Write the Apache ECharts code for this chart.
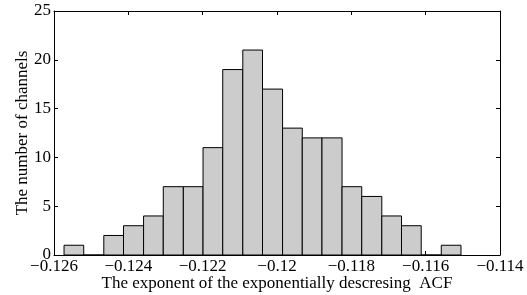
<!DOCTYPE html>
<html>
<head>
<meta charset="utf-8">
<script src="https://cdn.jsdelivr.net/npm/echarts@6/dist/echarts.min.js"></script>
<style>
  html, body { margin: 0; padding: 0; background: #fff; }
  #chart { width: 527px; height: 295px; }
</style>
</head>
<body>
<div id="chart"></div>
<script>
// 直方图的分箱边界
var binEdges = [-0.12573, -0.12520, -0.12466, -0.12413, -0.12359, -0.12306, -0.12252,
    -0.12199, -0.12146, -0.12092, -0.12039, -0.11985, -0.11932, -0.11879, -0.11825,
    -0.11772, -0.11718, -0.11665, -0.11612, -0.11558, -0.11505];
// 每个分箱的通道数
var counts = [1, 0, 2, 3, 4, 7, 7, 11, 19, 21, 17, 13, 12, 12, 7, 6, 4, 3, 0, 1];
var xTicks = [-0.126, -0.124, -0.122, -0.12, -0.118, -0.116, -0.114];
var yTicks = [0, 5, 10, 15, 20, 25];

(function () {
    var myChart = echarts.init(document.getElementById('chart'));

    var data = [];
    for (var i = 0; i < counts.length; i++) {
        data.push([binEdges[i], binEdges[i + 1], counts[i]]);
    }

    var font = 'Liberation Serif';
    function fmtX(v) {
        var r = Math.round(v * 1000) / 1000;
        return String(r).replace('-', '\u2212');
    }

    var option = {
        animation: false,
        textStyle: { fontFamily: font },
        grid: { left: 54, right: 27, top: 11, bottom: 40, containLabel: false, outerBoundsMode: 'none' },
        xAxis: [
            {
                type: 'value',
                min: xTicks[0],
                max: xTicks[xTicks.length - 1],
                interval: 0.002,
                name: 'The exponent of the exponentially descresing  ACF',
                nameLocation: 'middle',
                nameGap: 20,
                nameMoveOverlap: false,
                nameTextStyle: { fontFamily: font, fontSize: 17, color: '#000' },
                axisLine: { onZero: false, lineStyle: { color: '#000', width: 1 } },
                axisTick: { inside: true, length: 4, lineStyle: { color: '#000' } },
                axisLabel: { formatter: fmtX, fontFamily: font, fontSize: 17, color: '#000', margin: 3, showMinLabel: true, showMaxLabel: true },
                splitLine: { show: false }
            },
            {
                type: 'value',
                position: 'top',
                min: xTicks[0],
                max: xTicks[xTicks.length - 1],
                interval: 0.002,
                axisLine: { onZero: false, lineStyle: { color: '#000', width: 1 } },
                axisTick: { inside: true, length: 4, lineStyle: { color: '#000' } },
                axisLabel: { show: false },
                splitLine: { show: false }
            }
        ],
        yAxis: [
            {
                type: 'value',
                min: yTicks[0],
                max: yTicks[yTicks.length - 1],
                interval: 5,
                name: 'The number of channels',
                nameLocation: 'middle',
                nameGap: 23,
                nameMoveOverlap: false,
                nameTextStyle: { fontFamily: font, fontSize: 17, color: '#000' },
                axisLine: { show: true, onZero: false, lineStyle: { color: '#000', width: 1 } },
                axisTick: { show: true, inside: true, length: 4, lineStyle: { color: '#000' } },
                axisLabel: { fontFamily: font, fontSize: 17, color: '#000', margin: 3 },
                splitLine: { show: false }
            },
            {
                type: 'value',
                position: 'right',
                min: yTicks[0],
                max: yTicks[yTicks.length - 1],
                interval: 5,
                axisLine: { show: true, onZero: false, lineStyle: { color: '#000', width: 1 } },
                axisTick: { show: true, inside: true, length: 4, lineStyle: { color: '#000' } },
                axisLabel: { show: false },
                splitLine: { show: false }
            }
        ],
        series: [
            {
                type: 'custom',
                xAxisIndex: 0,
                yAxisIndex: 0,
                data: data,
                renderItem: function (params, api) {
                    var p0 = api.coord([api.value(0), api.value(2)]);
                    var p1 = api.coord([api.value(1), 0]);
                    return {
                        type: 'rect',
                        shape: { x: p0[0], y: p0[1], width: p1[0] - p0[0], height: p1[1] - p0[1] },
                        style: { fill: '#cccccc', stroke: '#000', lineWidth: 1 }
                    };
                },
                z: 1
            }
        ]
    };

    myChart.setOption(option);
})();
</script>
</body>
</html>
